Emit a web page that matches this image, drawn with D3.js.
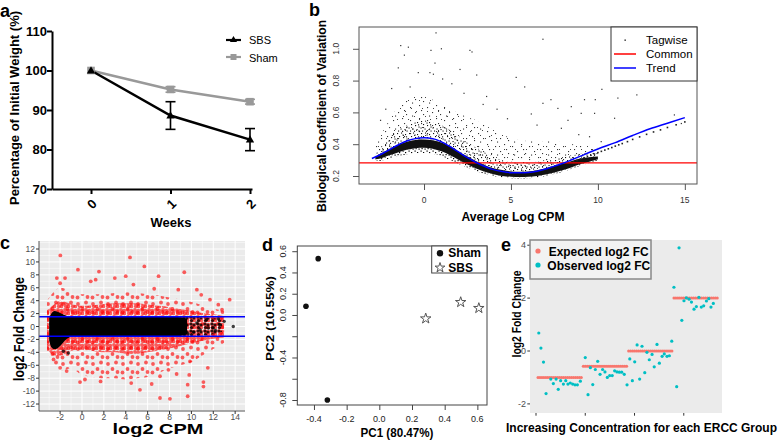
<!DOCTYPE html>
<html><head><meta charset="utf-8">
<script src="https://cdn.jsdelivr.net/npm/d3@7"></script>
<style>body{margin:0;background:#fff} svg{display:block} text{font-family:"Liberation Sans",Arial,Helvetica,sans-serif}</style>
</head><body><svg id="fig" width="778" height="442"></svg>
<script>
// ================= DATA =================
// Panel a: body weight
const weeks = [0, 1, 2];
const sbsMean = [100, 88.6, 82.5];
const sbsErr = [0, 3.5, 2.8];
const shamMean = [100, 95.2, 92.1];
const shamErr = [0, 0.7, 0.6];
const aYTicks = [70, 80, 90, 100, 110];
const aXTicks = [0, 1, 2];

// Panel b: BCV vs average log CPM
const bXTicks = [0, 5, 10, 15];
const bYTicks = [0.2, 0.4, 0.6, 0.8, 1.0];
const commonBCV = 0.282;
const trendX = [-3.0,-2.5,-2,-1.5,-1,-0.5,0,0.5,1,1.5,2,2.5,3,3.5,4,4.5,5,5.5,6,6.5,7,7.5,8,8.5,9,10,11,12,13,14,15];
const trendY = [0.31,0.335,0.365,0.395,0.42,0.435,0.44,0.435,0.415,0.385,0.35,0.315,0.285,0.26,0.24,0.228,0.221,0.22,0.222,0.23,0.244,0.262,0.28,0.302,0.325,0.37,0.41,0.455,0.497,0.532,0.567];
const coreX  = [-2.8,-2.5,-2,-1.5,-1,-0.5,0,0.5,1,1.5,2,2.5,3,3.5,4,4.5,5,5.5,6,6.5,7,7.5,8,8.5,9,9.5,10];
const coreFr = [0.295,0.295,0.31,0.325,0.335,0.345,0.345,0.34,0.325,0.3,0.275,0.252,0.23,0.212,0.2,0.19,0.186,0.184,0.186,0.19,0.2,0.212,0.226,0.245,0.265,0.282,0.298];
const coreLo = [0.305,0.31,0.33,0.348,0.365,0.375,0.378,0.372,0.355,0.33,0.3,0.272,0.247,0.227,0.211,0.2,0.195,0.193,0.195,0.2,0.21,0.222,0.237,0.255,0.275,0.29,0.305];
const coreHi = [0.32,0.34,0.368,0.395,0.415,0.427,0.43,0.425,0.41,0.385,0.352,0.322,0.293,0.268,0.249,0.237,0.229,0.226,0.229,0.236,0.249,0.264,0.279,0.295,0.31,0.318,0.322];
const midHi  = [0.34,0.38,0.44,0.49,0.52,0.54,0.55,0.54,0.52,0.49,0.45,0.41,0.38,0.35,0.32,0.30,0.29,0.285,0.285,0.29,0.30,0.31,0.32,0.33,0.34,0.345,0.35];
const outHi  = [0.38,0.45,0.55,0.63,0.68,0.70,0.70,0.68,0.65,0.62,0.60,0.57,0.55,0.52,0.49,0.46,0.44,0.43,0.42,0.42,0.42,0.42,0.41,0.40,0.40,0.39,0.38];
const tailX = [8.6,8.8,9.0,9.2,9.4,9.6,9.8,10.0,10.2,10.4,10.6,10.8,11.0,11.2,11.4,11.7,12.0,12.4,12.8,13.2,13.6,14.0,14.5,15.0];
const tailY = [0.29,0.298,0.307,0.315,0.322,0.33,0.338,0.347,0.355,0.363,0.371,0.379,0.388,0.396,0.404,0.416,0.43,0.446,0.462,0.477,0.49,0.505,0.522,0.54];
const bOutX = [0.69,-1.34,-0.90,2.64,2.76,0.40,1.0,-1.13,0.63,-1.48,-0.33,0.34,0.54,1.07,2.07,-1.86,3.03,5.3,6.84,10.23,11.15,12.24,9.85,9.23,7.3,6.84,6.17,7.7,8.47,9.04,9.81,10.96,5.79,8.28,9.52,10.19,14.4,14.8,4.2,3.6,4.8,6.5,7.9,8.9,1.6,-0.8,2.3,3.4,-2.2,-2.5];
const bOutY = [1.10,1.02,1.01,0.99,0.98,0.99,1.0,0.96,0.91,0.88,0.85,0.85,0.84,0.81,0.87,0.75,0.835,0.82,1.06,0.745,0.69,0.71,0.68,0.68,0.68,0.657,0.59,0.625,0.636,0.594,0.594,0.563,0.76,0.55,0.447,0.416,0.584,0.53,0.62,0.70,0.56,0.52,0.50,0.46,0.78,0.76,0.72,0.65,0.62,0.55];

// Panel c: MA plot
const cXTicks = [-2, 0, 2, 4, 6, 8, 10, 12, 14];
const cYTicks = [-12,-10,-8,-6,-4,-2,0,2,4,6,8,10,12];
const fcCut = 1.5;
const blkX  = [-3.0,-2.8,-2.5,-2.0,-1.5,-1.0,0,2,4,6,8,9,9.6];
const blkHi = [1.3,2.0,2.4,2.1,1.7,1.5,1.5,1.5,1.5,1.5,1.5,1.45,1.2];
const blkLo = [-2.2,-3.2,-3.5,-3.0,-2.1,-1.6,-1.5,-1.5,-1.5,-1.5,-1.5,-1.45,-1.2];
const blkSpX  = [9.0,10.0,11.0,12.0,12.8];
const blkSpHi = [1.5,1.5,1.4,1.3,1.0];
const blkSpLo = [-1.5,-1.5,-1.4,-1.2,-0.8];
const redX       = [-3.2,-2.5,-2,-1,0,1,2,3,4,5,6,7,8,9,10,11,12,13];
const redDenseHi = [2.5,3.5,4.0,3.5,3.2,3.3,3.5,3.6,3.6,3.6,3.4,3.2,3.0,2.7,2.4,2.1,1.9,1.7];
const redOutHi   = [4,5.5,6.0,5.5,5.0,5.0,5.0,5.2,5.3,5.2,5.0,4.8,4.5,4.2,3.8,3.3,2.8,2.4];
const redDenseLo = [-3.5,-4.5,-4.5,-3.8,-3.6,-3.8,-4.0,-4.0,-4.2,-4.2,-4.0,-3.7,-3.4,-3.0,-2.6,-2.2,-1.9,-1.7];
const redOutLo   = [-4,-6,-6.8,-6.5,-7.5,-7.8,-8.0,-8.0,-8.2,-8.0,-7.8,-7.2,-6.5,-6.0,-5.5,-4.5,-3.5,-2.5];
const redOutX = [-1.98,4.39,5.7,-0.37,1.55,9.35,7.0,-2.0,-2.3,-1.55,3.0,4.0,0.8,1.25,4.7,8.8,10.5,6.6,11.7,12.46,13.5,12.8,10.9,7.13,8.04,9.66,9.66,11.1,11.1,5.3,-0.18,0.27,1.7,4.5,6.37,9.8,11.5,9.87,-2.0,-2.6,-1.4,7.9,8.65,7.13];
const redOutY = [11.0,10.7,9.3,8.8,8.5,8.4,7.8,6.7,7.5,7.5,7.5,7.8,7.0,7.25,6.5,5.7,5.7,5.85,4.15,3.38,4.15,2.6,4.9,-11.07,-11.2,-10.8,-9.0,-8.6,-9.3,-9.8,-8.6,-8.2,-8.5,-8.75,-8.9,-7.5,-6.4,-5.4,-6.4,-5.1,-6.9,-6.7,-7.35,-7.7];
const blkOutX = [13.83,12.46,12.6,11.4,11.55,10.8,12.0,10.5,10.2,9.7,-1.7,-1.25,13.0,12.2];
const blkOutY = [0.0,1.2,0.3,1.05,-0.23,-0.5,-0.23,0.54,-0.85,-1.16,-3.84,-4.1,0.8,-0.6];

// Panel d: PCA
const shamPC1 = [-0.449, -0.374, -0.318];
const shamPC2 = [0.082, 0.53, -0.80];
const sbsPC1 = [0.284, 0.498, 0.609];
const sbsPC2 = [-0.034, 0.12, 0.064];
const dXTicks = [-0.4, -0.2, 0.0, 0.2, 0.4, 0.6];
const dYTicks = [-0.8, -0.6, -0.4, -0.2, 0.0, 0.2, 0.4, 0.6];
const dYLabels = [-0.8, -0.4, 0.0, 0.2, 0.4, 0.6];

// Panel e: ERCC spike-ins
const eYTicks = [-2, 0, 2, 4];
const eXTicks = [0, 25, 50, 75];
const expectedIdx = d3.range(1, 93);
const expectedFC = [
 -1,-1,-1,-1,-1,-1,-1,-1,-1,-1,-1,-1,-1,-1,-1,-1,-1,-1,-1,-1,-1,-1,-1,
 -0.58,-0.58,-0.58,-0.58,-0.58,-0.58,-0.58,-0.58,-0.58,-0.58,-0.58,-0.58,-0.58,-0.58,-0.58,-0.58,-0.58,-0.58,-0.58,-0.58,-0.58,-0.58,-0.58,
 0,0,0,0,0,0,0,0,0,0,0,0,0,0,0,0,0,0,0,0,0,0,0,
 2,2,2,2,2,2,2,2,2,2,2,2,2,2,2,2,2,2,2,2,2,2,2];
const observedIdx = [1.4,2.5,3.8,5.1,7.5,8.8,10.2,11.3,12.5,13.9,15.1,16.2,17.4,18.6,19.8,21.0,22.5,
 25.0,26.4,27.6,28.8,30.1,31.3,32.5,33.8,35.0,36.2,37.4,38.7,39.9,41.1,42.3,43.5,44.8,46.2,
 47.6,48.9,50.1,51.3,52.6,53.8,55.2,56.3,57.5,58.9,60.0,61.4,62.6,64.0,65.1,66.5,67.7,
 68.9,70.0,71.4,72.6,74.0,75.1,76.3,77.7,78.9,80.2,81.4,82.7,83.9,85.1,86.5,87.7,88.8,90.0];
const observedFC = [0.68,0.11,-0.42,-1.61,-1.06,-1.23,-1.06,-1.45,-1.12,-1.25,-1.12,-1.25,-1.21,-1.25,-1.28,-1.28,-1.14,
 -0.25,-1.65,-0.63,-1.27,-0.70,-0.39,-0.88,-0.70,-0.79,-1.0,-0.93,-0.93,-0.75,-0.79,-0.80,-0.80,-0.88,-1.28,
 -0.30,-1.12,-0.41,0.23,-1.06,0.18,-0.82,-0.05,-0.33,-0.13,-0.60,0.25,-0.46,-0.20,-0.11,-0.20,-0.18,
 0.37,2.41,-1.35,3.90,1.16,1.90,2.01,1.96,1.85,1.58,1.68,2.03,1.66,1.71,1.89,1.98,1.66,1.80];

// ================= DRAWING =================
const svg = d3.select("#fig");
const defs = svg.append("defs");

function T(g, s, x, y, o = {}) {
  const t = g.append("text").text(s).attr("x", x).attr("y", y)
    .attr("font-size", o.size || 10).attr("font-weight", o.bold ? "bold" : "normal")
    .attr("text-anchor", o.anchor || "start").attr("fill", o.fill || "#000");
  if (o.base) t.attr("dominant-baseline", o.base);
  if (o.rot != null) t.attr("transform", `rotate(${o.rot},${x},${y})`);
  if (o.len) t.attr("textLength", o.len).attr("lengthAdjust", "spacingAndGlyphs");
  return t;
}
function pattern(id, w, h, pts, draw) {
  const p = defs.append("pattern").attr("id", id).attr("patternUnits", "userSpaceOnUse")
    .attr("width", w).attr("height", h);
  pts.forEach(([x, y]) => draw(p, x, y));
}
const sq = (s, c) => (p, x, y) => p.append("rect").attr("x", x).attr("y", y).attr("width", s).attr("height", s).attr("fill", c);
const ci = (r, c) => (p, x, y) => p.append("circle").attr("cx", x).attr("cy", y).attr("r", r).attr("fill", c);
const RED = "rgba(255,0,0,0.62)";
// speckle textures (style only)
pattern("kDense", 12, 12, [[1,1],[5,0.5],[9,2],[3,4],[7,5],[10.5,6.5],[0.5,7.5],[4.5,8.5],[8.5,9],[2,10.5],[6,10.8],[10.5,10.5],[6.5,2.5],[10,4.3]], sq(1.1, "#111"));
pattern("kSparse", 17, 13, [[2,3],[11,1],[7,8],[15,10],[4,11.5],[13,6]], sq(1.1, "#333"));
pattern("kSparse2", 11, 19, [[1,5],[7,2],[4,13],[9,16]], sq(1, "#444"));
pattern("kFringe", 6, 6, [[0.5,0.5],[3,2],[1.5,4],[4.5,4.5]], sq(1.2, "#000"));
pattern("rDense", 7, 7, [[2,2],[5.2,2.6],[2.8,5.3],[5.4,5.4]], ci(1.9, RED));
pattern("rSparse", 15, 15, [[3,4],[11,2.5],[7.5,9],[12.5,12],[2.5,12.5]], ci(1.9, RED));
pattern("cBlk", 7, 7, [[2,2],[5,3],[2.5,5.5]], ci(1.6, "rgba(0,0,0,0.8)"));

function band(g, xs, lo, hi, sx, sy, fill, curve = d3.curveMonotoneX) {
  const data = xs.map((x, i) => ({ x, lo: lo[i], hi: hi[i] }));
  g.append("path").datum(data)
    .attr("d", d3.area().x(d => sx(d.x)).y0(d => sy(d.lo)).y1(d => sy(d.hi)).curve(curve))
    .attr("fill", fill);
}

// ---------- Panel a ----------
{
  const g = svg.append("g");
  const x = d3.scaleLinear([-0.4906, 2.0252], [52, 252]);
  const y = d3.scaleLinear([70, 110], [189, 31]);
  const ax = g.append("g").attr("transform", "translate(0,189)")
    .call(d3.axisBottom(x).tickValues(aXTicks).tickSize(5).tickSizeOuter(0).tickFormat(""));
  const ay = g.append("g").attr("transform", "translate(52,0)")
    .call(d3.axisLeft(y).tickValues(aYTicks).tickSize(5).tickSizeOuter(0).tickFormat(""));
  [ax, ay].forEach(a => { a.selectAll("path,line").attr("stroke", "#000").attr("stroke-width", 2); });
  aYTicks.forEach(v => T(g, v, 47, y(v), { size: 13, bold: true, anchor: "end", base: "central" }));
  aXTicks.forEach(v => T(g, v, x(v) + 1, 204, { size: 13, bold: true, anchor: "middle", base: "central", rot: -45 }));
  T(g, "Weeks", 171, 227, { size: 13, bold: true, anchor: "middle" });
  T(g, "Percentage of Initial Weight (%)", 19, 108, { size: 13, bold: true, anchor: "middle", rot: -90 });
  T(g, "a", 0, 17, { size: 18, bold: true });
  const lineFn = d3.line().x((d, i) => x(weeks[i])).y(d => y(d));
  g.append("path").datum(shamMean).attr("d", lineFn).attr("fill", "none").attr("stroke", "#999").attr("stroke-width", 2.5);
  g.append("path").datum(sbsMean).attr("d", lineFn).attr("fill", "none").attr("stroke", "#000").attr("stroke-width", 2.5);
  weeks.forEach((w, i) => {
    [[shamMean, shamErr, "#999"], [sbsMean, sbsErr, "#000"]].forEach(([m, e, c]) => {
      if (e[i] > 0) {
        const cx = x(w), y0 = y(m[i] - e[i]), y1 = y(m[i] + e[i]);
        g.append("line").attr("x1", cx).attr("x2", cx).attr("y1", y0).attr("y2", y1).attr("stroke", c).attr("stroke-width", 1.6);
        [y0, y1].forEach(yy => g.append("line").attr("x1", cx - 5).attr("x2", cx + 5).attr("y1", yy).attr("y2", yy).attr("stroke", c).attr("stroke-width", 1.6));
      }
    });
    g.append("rect").attr("x", x(w) - 3.8).attr("y", y(shamMean[i]) - 3.8).attr("width", 7.6).attr("height", 7.6).attr("fill", "#999");
    g.append("path").attr("d", d3.symbol(d3.symbolTriangle, 30)()).attr("transform", `translate(${x(w)},${y(sbsMean[i]) + 0.5})`).attr("fill", "#000");
  });
  g.append("line").attr("x1", 226).attr("x2", 241).attr("y1", 40).attr("y2", 40).attr("stroke", "#000").attr("stroke-width", 2.2);
  g.append("path").attr("d", d3.symbol(d3.symbolTriangle, 22)()).attr("transform", "translate(233.5,40)").attr("fill", "#000");
  g.append("line").attr("x1", 226).attr("x2", 241).attr("y1", 57).attr("y2", 57).attr("stroke", "#999").attr("stroke-width", 2.2);
  g.append("rect").attr("x", 230.5).attr("y", 54).attr("width", 6).attr("height", 6).attr("fill", "#999");
  T(g, "SBS", 249, 44.3, { size: 11 });
  T(g, "Sham", 249, 61.5, { size: 11 });
}

// ---------- Panel b ----------
{
  const g = svg.append("g");
  const x = d3.scaleLinear([-3.74, 15.7], [359, 697]);
  const y = d3.scaleLinear([0.1497, 1.137], [184, 27]);
  band(g, coreX, coreHi, outHi, x, y, "url(#kSparse)");
  band(g, coreX, coreHi, outHi, x, y, "url(#kSparse2)");
  band(g, coreX, coreHi, midHi, x, y, "url(#kDense)");
  band(g, coreX, coreFr, coreLo, x, y, "url(#kFringe)");
  band(g, coreX, coreLo, coreHi, x, y, "#111");
  bOutX.forEach((v, i) => g.append("rect").attr("x", x(v) - 0.6).attr("y", y(bOutY[i]) - 0.6).attr("width", 1.2).attr("height", 1.2).attr("fill", "#333"));
  tailX.forEach((v, i) => g.append("rect").attr("x", x(v) - 0.8).attr("y", y(tailY[i]) - 0.8).attr("width", 1.6).attr("height", 1.6).attr("fill", "#222"));
  g.append("line").attr("x1", 359).attr("x2", 697).attr("y1", y(commonBCV)).attr("y2", y(commonBCV)).attr("stroke", "#f00").attr("stroke-width", 1.2);
  g.append("path").datum(trendX.map((v, i) => [v, trendY[i]]))
    .attr("d", d3.line().x(d => x(d[0])).y(d => y(d[1])).curve(d3.curveMonotoneX))
    .attr("fill", "none").attr("stroke", "#00f").attr("stroke-width", 1.5);
  g.append("rect").attr("x", 359).attr("y", 27).attr("width", 338).attr("height", 157).attr("fill", "none").attr("stroke", "#555").attr("stroke-width", 1);
  const ay = g.append("g").attr("transform", "translate(359,0)").call(d3.axisLeft(y).tickValues(bYTicks).tickSize(6).tickSizeOuter(0).tickFormat(""));
  const ax = g.append("g").attr("transform", "translate(0,184)").call(d3.axisBottom(x).tickValues(bXTicks).tickSize(6).tickSizeOuter(0).tickFormat(""));
  [ax, ay].forEach(a => { a.select(".domain").remove(); a.selectAll("line").attr("stroke", "#555"); });
  bYTicks.forEach(v => T(g, v.toFixed(1), 336, y(v), { size: 8.5, anchor: "middle", base: "central", rot: -90, fill: "#333" }));
  bXTicks.forEach(v => T(g, v, x(v), 200, { size: 8.5, anchor: "middle", base: "central", fill: "#333" }));
  T(g, "Average Log CPM", 513, 221, { size: 12, bold: true, anchor: "middle", len: 103 });
  T(g, "Biological Coefficient of Variation", 326, 116, { size: 12, bold: true, anchor: "middle", rot: -90, len: 192 });
  T(g, "b", 309, 16, { size: 18, bold: true });
  g.append("rect").attr("x", 611).attr("y", 27).attr("width", 86).attr("height", 54).attr("fill", "#fff").attr("stroke", "#333").attr("stroke-width", 1);
  g.append("rect").attr("x", 624.5).attr("y", 39.5).attr("width", 1.3).attr("height", 1.3).attr("fill", "#000");
  g.append("line").attr("x1", 614).attr("x2", 636).attr("y1", 54).attr("y2", 54).attr("stroke", "#f00").attr("stroke-width", 1.5);
  g.append("line").attr("x1", 614).attr("x2", 636).attr("y1", 68).attr("y2", 68).attr("stroke", "#00f").attr("stroke-width", 1.5);
  T(g, "Tagwise", 646, 44, { size: 11.5 });
  T(g, "Common", 646, 58, { size: 11.5 });
  T(g, "Trend", 646, 72, { size: 11.5 });
}

// ---------- Panel c ----------
{
  const g = svg.append("g");
  const x = d3.scaleLinear([-3.93, 14.9], [39, 245]);
  const y = d3.scaleLinear([-13.08, 13.24], [411, 241]);
  g.append("rect").attr("x", 39).attr("y", 241).attr("width", 206).attr("height", 170).attr("fill", "#EBEBEB");
  const minorX = d3.range(-3, 15, 2), minorY = d3.range(-13, 14, 2);
  minorX.forEach(v => g.append("line").attr("x1", x(v)).attr("x2", x(v)).attr("y1", 241).attr("y2", 411).attr("stroke", "#fff").attr("stroke-width", 0.5));
  minorY.forEach(v => g.append("line").attr("y1", y(v)).attr("y2", y(v)).attr("x1", 39).attr("x2", 245).attr("stroke", "#fff").attr("stroke-width", 0.5));
  cXTicks.forEach(v => g.append("line").attr("x1", x(v)).attr("x2", x(v)).attr("y1", 241).attr("y2", 411).attr("stroke", "#fff").attr("stroke-width", 1));
  cYTicks.forEach(v => g.append("line").attr("y1", y(v)).attr("y2", y(v)).attr("x1", 39).attr("x2", 245).attr("stroke", "#fff").attr("stroke-width", 1));
  band(g, redX, redOutLo, redOutHi, x, y, "url(#rSparse)");
  band(g, redX, redDenseLo, redDenseHi, x, y, "url(#rDense)");
  redOutX.forEach((v, i) => g.append("circle").attr("cx", x(v)).attr("cy", y(redOutY[i])).attr("r", 1.9).attr("fill", RED));
  band(g, blkSpX, blkSpLo, blkSpHi, x, y, "url(#cBlk)");
  band(g, blkX, blkLo, blkHi, x, y, "#000");
  blkOutX.forEach((v, i) => g.append("circle").attr("cx", x(v)).attr("cy", y(blkOutY[i])).attr("r", 1.7).attr("fill", "rgba(0,0,0,0.75)"));
  [fcCut, -fcCut].forEach(v => g.append("line").attr("x1", 39).attr("x2", 245).attr("y1", y(v)).attr("y2", y(v)).attr("stroke", "#00f").attr("stroke-width", 1.5));
  g.append("line").attr("x1", 39).attr("x2", 39).attr("y1", 241).attr("y2", 411).attr("stroke", "#555").attr("stroke-width", 1);
  g.append("line").attr("x1", 39).attr("x2", 245).attr("y1", 411).attr("y2", 411).attr("stroke", "#555").attr("stroke-width", 1);
  cYTicks.forEach(v => {
    g.append("line").attr("x1", 36).attr("x2", 39).attr("y1", y(v)).attr("y2", y(v)).attr("stroke", "#333");
    T(g, v, 35, y(v), { size: 8.5, anchor: "end", base: "central", fill: "#4D4D4D" });
  });
  cXTicks.forEach(v => {
    g.append("line").attr("x1", x(v)).attr("x2", x(v)).attr("y1", 411).attr("y2", 414).attr("stroke", "#333");
    T(g, v, x(v), 419.5, { size: 8.5, anchor: "middle", fill: "#4D4D4D" });
  });
  T(g, "log2 CPM", 158, 434, { size: 15, bold: true, anchor: "middle", len: 91 });
  T(g, "log2 Fold Change", 24, 329, { size: 15, bold: true, anchor: "middle", rot: -90, len: 104 });
  T(g, "c", 0, 249, { size: 18, bold: true });
}

// ---------- Panel d ----------
{
  const g = svg.append("g");
  const x = d3.scaleLinear([-0.502, 0.659], [297.3, 487]);
  const y = d3.scaleLinear([-0.847, 0.649], [405, 246]);
  g.append("rect").attr("x", 297.3).attr("y", 246).attr("width", 189.7).attr("height", 159).attr("fill", "none").attr("stroke", "#444").attr("stroke-width", 1);
  const ay = g.append("g").attr("transform", "translate(297.3,0)").call(d3.axisLeft(y).tickValues(dYTicks).tickSize(5).tickSizeOuter(0).tickFormat(""));
  const ax = g.append("g").attr("transform", "translate(0,405)").call(d3.axisBottom(x).tickValues(dXTicks).tickSize(5).tickSizeOuter(0).tickFormat(""));
  [ax, ay].forEach(a => { a.select(".domain").remove(); a.selectAll("line").attr("stroke", "#444"); });
  dYLabels.forEach(v => T(g, v.toFixed(1), 283, y(v), { size: 9, anchor: "middle", base: "central", rot: -90, fill: "#222" }));
  dXTicks.forEach(v => T(g, v.toFixed(1), x(v), 418.5, { size: 9, anchor: "middle", base: "central", fill: "#222" }));
  shamPC1.forEach((v, i) => g.append("circle").attr("cx", x(v)).attr("cy", y(shamPC2[i])).attr("r", 2.8).attr("fill", "#111"));
  sbsPC1.forEach((v, i) => g.append("path").attr("d", d3.symbol(d3.symbolStar, 34)()).attr("transform", `translate(${x(v)},${y(sbsPC2[i])})`).attr("fill", "#fff").attr("stroke", "#555").attr("stroke-width", 1));
  T(g, "PC1 (80.47%)", 397, 437, { size: 13, bold: true, anchor: "middle", len: 73 });
  T(g, "PC2 (10.55%)", 274, 318.5, { size: 11.5, bold: true, anchor: "middle", rot: -90, len: 85 });
  T(g, "d", 262, 251, { size: 18, bold: true });
  g.append("rect").attr("x", 431.7).attr("y", 246).attr("width", 55.3).attr("height", 27).attr("fill", "#fff").attr("stroke", "#444").attr("stroke-width", 1);
  g.append("circle").attr("cx", 440).attr("cy", 253.3).attr("r", 3.2).attr("fill", "#111");
  g.append("path").attr("d", d3.symbol(d3.symbolStar, 30)()).attr("transform", "translate(440,267.7)").attr("fill", "#fff").attr("stroke", "#555").attr("stroke-width", 1);
  T(g, "Sham", 448.3, 257.3, { size: 12, bold: true });
  T(g, "SBS", 448.3, 272, { size: 12, bold: true });
}

// ---------- Panel e ----------
{
  const g = svg.append("g");
  const x = d3.scaleLinear([-3.05, 94.4], [530, 722]);
  const y = d3.scaleLinear([-2.344, 4.197], [413, 240]);
  g.append("rect").attr("x", 530).attr("y", 240).attr("width", 192).attr("height", 173).attr("fill", "#EBEBEB");
  expectedIdx.forEach((v, i) => g.append("circle").attr("cx", x(v)).attr("cy", y(expectedFC[i])).attr("r", 1.5).attr("fill", "#F8766D"));
  observedIdx.forEach((v, i) => g.append("circle").attr("cx", x(v)).attr("cy", y(observedFC[i])).attr("r", 1.6).attr("fill", "#00BFC4"));
  eYTicks.forEach(v => {
    g.append("line").attr("x1", 527.3).attr("x2", 530).attr("y1", y(v)).attr("y2", y(v)).attr("stroke", "#333");
    T(g, v, 526, y(v), { size: 9, anchor: "end", base: "central", fill: "#4D4D4D" });
  });
  eXTicks.forEach(v => g.append("line").attr("x1", x(v)).attr("x2", x(v)).attr("y1", 413).attr("y2", 415.7).attr("stroke", "#333"));
  g.append("rect").attr("x", 530).attr("y", 240).attr("width", 121).attr("height", 39).attr("fill", "#F2F2F2").attr("stroke", "#888").attr("stroke-width", 1.5);
  g.append("circle").attr("cx", 538).attr("cy", 251).attr("r", 2.6).attr("fill", "#F8766D");
  g.append("circle").attr("cx", 538).attr("cy", 265).attr("r", 2.6).attr("fill", "#00BFC4");
  T(g, "Expected log2 FC", 548.7, 255.5, { size: 12, bold: true, len: 100 });
  T(g, "Observed log2 FC", 547.3, 269.5, { size: 12, bold: true, len: 103 });
  T(g, "Increasing Concentration for each ERCC Group", 641.5, 431.5, { size: 12, bold: true, anchor: "middle", len: 271 });
  T(g, "log2 Fold Change", 521, 314, { size: 12, bold: true, anchor: "middle", rot: -90, len: 87 });
  T(g, "e", 501, 251, { size: 18, bold: true });
}
</script></body></html>
